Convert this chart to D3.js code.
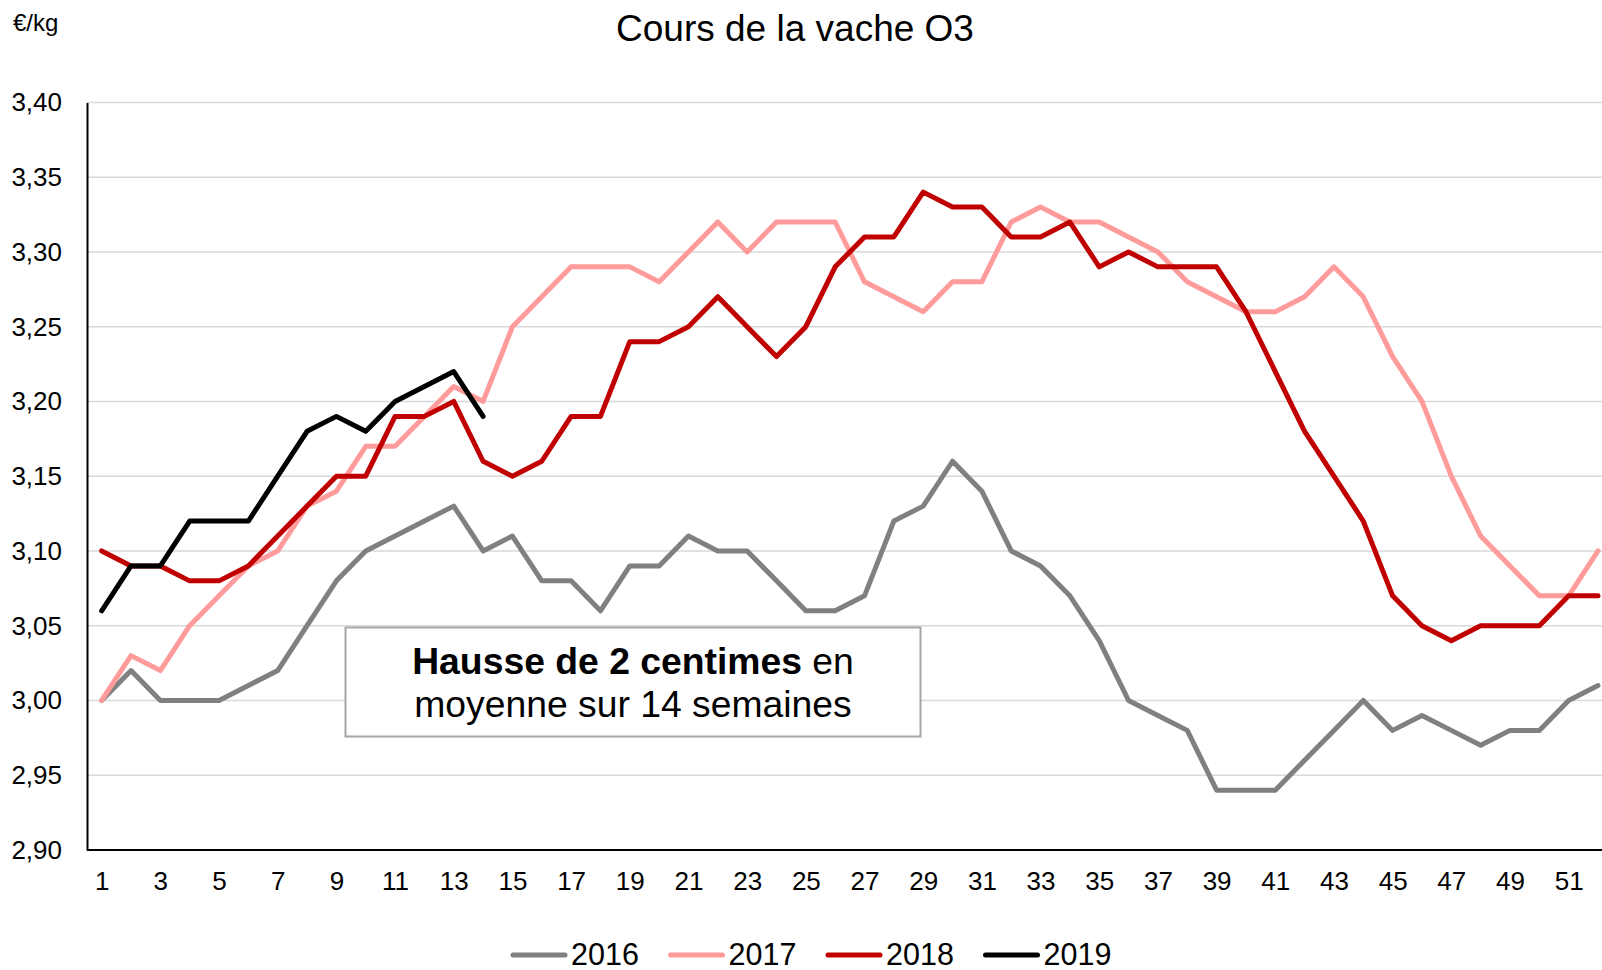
<!DOCTYPE html>
<html>
<head>
<meta charset="utf-8">
<script src="https://cdn.jsdelivr.net/npm/d3@7"></script>
<style>
  html, body { margin: 0; padding: 0; background: #fff; overflow: hidden; }
  svg { display: block; font-family: "Liberation Sans", Arial, sans-serif; }
</style>
</head>
<body>
<svg id="chart" width="1602" height="970"></svg>
<script>
// ---- data ----
const weeks = d3.range(1, 53);
const xTickLabels = d3.range(1, 53, 2);
const yTickValues = [2.90, 2.95, 3.00, 3.05, 3.10, 3.15, 3.20, 3.25, 3.30, 3.35, 3.40];
const seriesNames = ["2016", "2017", "2018", "2019"];
const seriesColors = ["#808080", "#FF9B9B", "#C00000", "#000000"];

const values2016 = [3.00,3.02,3.00,3.00,3.00,3.01,3.02,3.05,3.08,3.10,
                    3.11,3.12,3.13,3.10,3.11,3.08,3.08,3.06,3.09,3.09,
                    3.11,3.10,3.10,3.08,3.06,3.06,3.07,3.12,3.13,3.16,
                    3.14,3.10,3.09,3.07,3.04,3.00,2.99,2.98,2.94,2.94,
                    2.94,2.96,2.98,3.00,2.98,2.99,2.98,2.97,2.98,2.98,
                    3.00,3.01];
const values2017 = [3.00,3.03,3.02,3.05,3.07,3.09,3.10,3.13,3.14,3.17,
                    3.17,3.19,3.21,3.20,3.25,3.27,3.29,3.29,3.29,3.28,
                    3.30,3.32,3.30,3.32,3.32,3.32,3.28,3.27,3.26,3.28,
                    3.28,3.32,3.33,3.32,3.32,3.31,3.30,3.28,3.27,3.26,
                    3.26,3.27,3.29,3.27,3.23,3.20,3.15,3.11,3.09,3.07,
                    3.07,3.10];
const values2018 = [3.10,3.09,3.09,3.08,3.08,3.09,3.11,3.13,3.15,3.15,
                    3.19,3.19,3.20,3.16,3.15,3.16,3.19,3.19,3.24,3.24,
                    3.25,3.27,3.25,3.23,3.25,3.29,3.31,3.31,3.34,3.33,
                    3.33,3.31,3.31,3.32,3.29,3.30,3.29,3.29,3.29,3.26,
                    3.22,3.18,3.15,3.12,3.07,3.05,3.04,3.05,3.05,3.05,
                    3.07,3.07];
const values2019 = [3.06,3.09,3.09,3.12,3.12,3.12,3.15,3.18,3.19,3.18,
                    3.20,3.21,3.22,3.19];

const titleText = "Cours de la vache O3";
const unitText = "€/kg";
const noteBold = "Hausse de 2 centimes";
const noteRest = " en";
const noteLine2 = "moyenne sur 14 semaines";

// ---- layout ----
const W = 1602, H = 970;
const plotLeft = 87, plotTop = 102.4, plotBottom = 850;
const step = 29.34;
const svg = d3.select("#chart");

const x = d3.scaleLinear().domain([0.5, 52.5]).range([plotLeft, plotLeft + 52 * step]);
const y = d3.scaleLinear().domain([2.90, 3.40]).range([plotBottom, plotTop]);

// gridlines
svg.append("g")
  .selectAll("line")
  .data(yTickValues.filter(v => v > 2.9))
  .join("line")
  .attr("x1", plotLeft).attr("x2", W)
  .attr("y1", d => y(d)).attr("y2", d => y(d))
  .attr("stroke", "#d9d9d9").attr("stroke-width", 1.5);

// y axis
const yAxis = d3.axisLeft(y).tickValues(yTickValues).tickSize(0).tickPadding(25)
  .tickFormat(d => d3.format(".2f")(d).replace(".", ","));
const gy = svg.append("g").attr("transform", `translate(${plotLeft},0)`).call(yAxis);
gy.select(".domain").attr("stroke", "#000").attr("stroke-width", 2);
gy.selectAll("text").attr("font-size", 26).attr("fill", "#000")
  .attr("font-family", "'Liberation Sans', Arial, sans-serif");

// x axis
const xAxis = d3.axisBottom(x).tickValues(xTickLabels).tickSize(0).tickPadding(22)
  .tickFormat(d3.format("d"));
const gx = svg.append("g").attr("transform", `translate(0,${plotBottom})`).call(xAxis);
gx.select(".domain").attr("stroke", "#000").attr("stroke-width", 2)
  .attr("d", `M${plotLeft},0H${W + 20}`);
gx.selectAll("text").attr("font-size", 26).attr("fill", "#000")
  .attr("font-family", "'Liberation Sans', Arial, sans-serif");

// lines
const allSeries = [values2016, values2017, values2018, values2019];
const line = d3.line().x((d, i) => x(weeks[i])).y(d => y(d));
svg.append("g")
  .selectAll("path")
  .data(allSeries)
  .join("path")
  .attr("d", d => line(d))
  .attr("fill", "none")
  .attr("stroke", (d, i) => seriesColors[i])
  .attr("stroke-width", 5)
  .attr("stroke-linejoin", "round")
  .attr("stroke-linecap", "round");

// title
svg.append("text")
  .attr("x", 795).attr("y", 41)
  .attr("text-anchor", "middle")
  .attr("font-size", 37).attr("fill", "#000")
  .text(titleText);

// unit
svg.append("text")
  .attr("x", 13).attr("y", 31)
  .attr("font-size", 24).attr("fill", "#000")
  .text(unitText);

// annotation box
const box = svg.append("g");
box.append("rect")
  .attr("x", 345.5).attr("y", 627.5).attr("width", 575).attr("height", 109)
  .attr("fill", "#fff").attr("stroke", "#a6a6a6").attr("stroke-width", 2);
const t1 = box.append("text").attr("x", 633).attr("y", 674)
  .attr("text-anchor", "middle").attr("font-size", 37.3).attr("fill", "#000");
t1.append("tspan").attr("font-weight", "bold").text(noteBold);
t1.append("tspan").text(noteRest);
box.append("text").attr("x", 633).attr("y", 717)
  .attr("text-anchor", "middle").attr("font-size", 37.3).attr("fill", "#000")
  .text(noteLine2);

// legend
const legendX0 = 513, legendSpacing = 157.5, legendY = 955;
const lg = svg.append("g").selectAll("g").data(seriesNames).join("g")
  .attr("transform", (d, i) => `translate(${legendX0 + i * legendSpacing},${legendY})`);
lg.append("line").attr("x1", 0).attr("x2", 52).attr("y1", 0).attr("y2", 0)
  .attr("stroke", (d, i) => seriesColors[i]).attr("stroke-width", 5)
  .attr("stroke-linecap", "round");
lg.append("text").attr("x", 58).attr("y", 10)
  .attr("font-size", 30.5).attr("fill", "#000").text(d => d);
</script>
</body>
</html>
